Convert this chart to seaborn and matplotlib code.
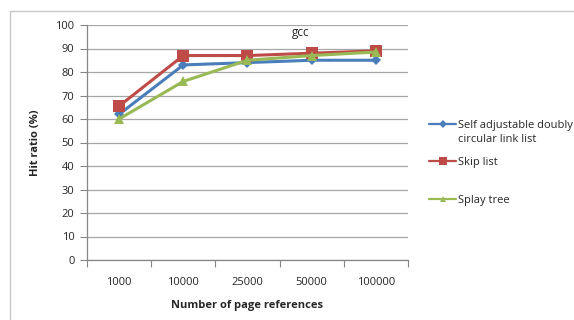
import matplotlib
matplotlib.use("Agg")
import matplotlib.pyplot as plt
from matplotlib.lines import Line2D
import numpy as np
import pandas as pd
import seaborn as sns

# Data: hit ratio (%) vs number of page references, gcc trace
page_refs = ["1000", "10000", "25000", "50000", "100000"]
series_names = ["Self adjustable doubly\ncircular link list", "Skip list", "Splay tree"]
self_adjustable = [62, 83, 84, 85, 85]
skip_list = [65.5, 87, 87, 88, 89]
splay_tree = [60, 76, 85, 87, 88.5]
y_ticks = [0, 10, 20, 30, 40, 50, 60, 70, 80, 90, 100]

colors = ["#4A7EBB", "#BE4B48", "#98B954"]
markers = ["D", "s", "^"]
marker_sizes = [5, 8, 7]
legend_marker_sizes = [4, 6, 5]

rows = []
for name, vals in zip(series_names, [self_adjustable, skip_list, splay_tree]):
    for i, v in enumerate(vals):
        rows.append({"pos": i, "refs": page_refs[i], "ratio": v, "series": name})
df = pd.DataFrame(rows)

sns.set_theme(style="white")
plt.rcParams["font.family"] = ["Open Sans", "DejaVu Sans"]

W, H = 574, 320
fig = plt.figure(figsize=(W / 100, H / 100), dpi=100)
ax = fig.add_axes([87 / W, 1 - 260 / H, (408 - 87) / W, (260 - 25) / H])

# outer chart frame (top and left edges visible)
frame_kw = dict(transform=fig.transFigure, color="#C8C8C8", linewidth=1.0, zorder=0)
fig.lines.append(Line2D([10 / W, 1.0], [1 - 11 / H, 1 - 11 / H], **frame_kw))
fig.lines.append(Line2D([10 / W, 10 / W], [0.0, 1 - 11 / H], **frame_kw))

for name, c, m, ms in zip(series_names, colors, markers, marker_sizes):
    sub = df[df["series"] == name]
    sns.lineplot(data=sub, x="pos", y="ratio", ax=ax, color=c, linewidth=2.2,
                 marker=m, markersize=ms, markeredgewidth=0, legend=False)

ax.set_xlim(-0.5, len(page_refs) - 0.5)
ax.set_ylim(0, 100)
ax.set_yticks(y_ticks)
ax.set_xticks(range(len(page_refs)))
ax.set_xticklabels(page_refs)
ax.set_xticks(np.arange(-0.5, len(page_refs)), minor=True)
ax.tick_params(axis="x", which="major", length=0, pad=12, labelsize=8, colors="#262626")
ax.tick_params(axis="x", which="minor", length=5, width=0.8, color="#868686", bottom=True, direction="out")
ax.tick_params(axis="y", which="major", length=5, width=0.8, color="#868686", left=True,
               direction="out", labelsize=8, pad=4, labelcolor="#262626")
ax.yaxis.grid(True, color="#A6A6A6", linewidth=0.9)
ax.set_axisbelow(True)
for s in ["top", "right"]:
    ax.spines[s].set_visible(False)
for s in ["left", "bottom"]:
    ax.spines[s].set_color("#868686")
    ax.spines[s].set_linewidth(0.9)

ax.set_xlabel("Number of page references", fontsize=8, fontweight="bold", labelpad=9)
ax.set_ylabel("Hit ratio (%)", fontsize=8, fontweight="bold", labelpad=10)
ax.text(0.665, 0.97, "gcc", transform=ax.transAxes, fontsize=8.5, ha="center", va="center")

# legend entries on the right; the handle sits level with the first text line
legend_y = [124, 161, 199]
line_step = 13.5
for name, c, m, ms, yp in zip(series_names, colors, markers, legend_marker_sizes, legend_y):
    yf = 1 - yp / H
    fig.lines.append(Line2D([429 / W, 456 / W], [yf, yf], transform=fig.transFigure,
                            color=c, linewidth=1.6))
    fig.lines.append(Line2D([442.5 / W], [yf], transform=fig.transFigure, color=c,
                            marker=m, markersize=ms, markeredgewidth=0, linestyle="none"))
    extra = name.count("\n") * line_step
    fig.text(458 / W, 1 - (yp + 4 + extra) / H, name, fontsize=8, ha="left", va="baseline",
             color="#262626", linespacing=1.3)

fig.savefig("out.png", dpi=100, facecolor="white")
